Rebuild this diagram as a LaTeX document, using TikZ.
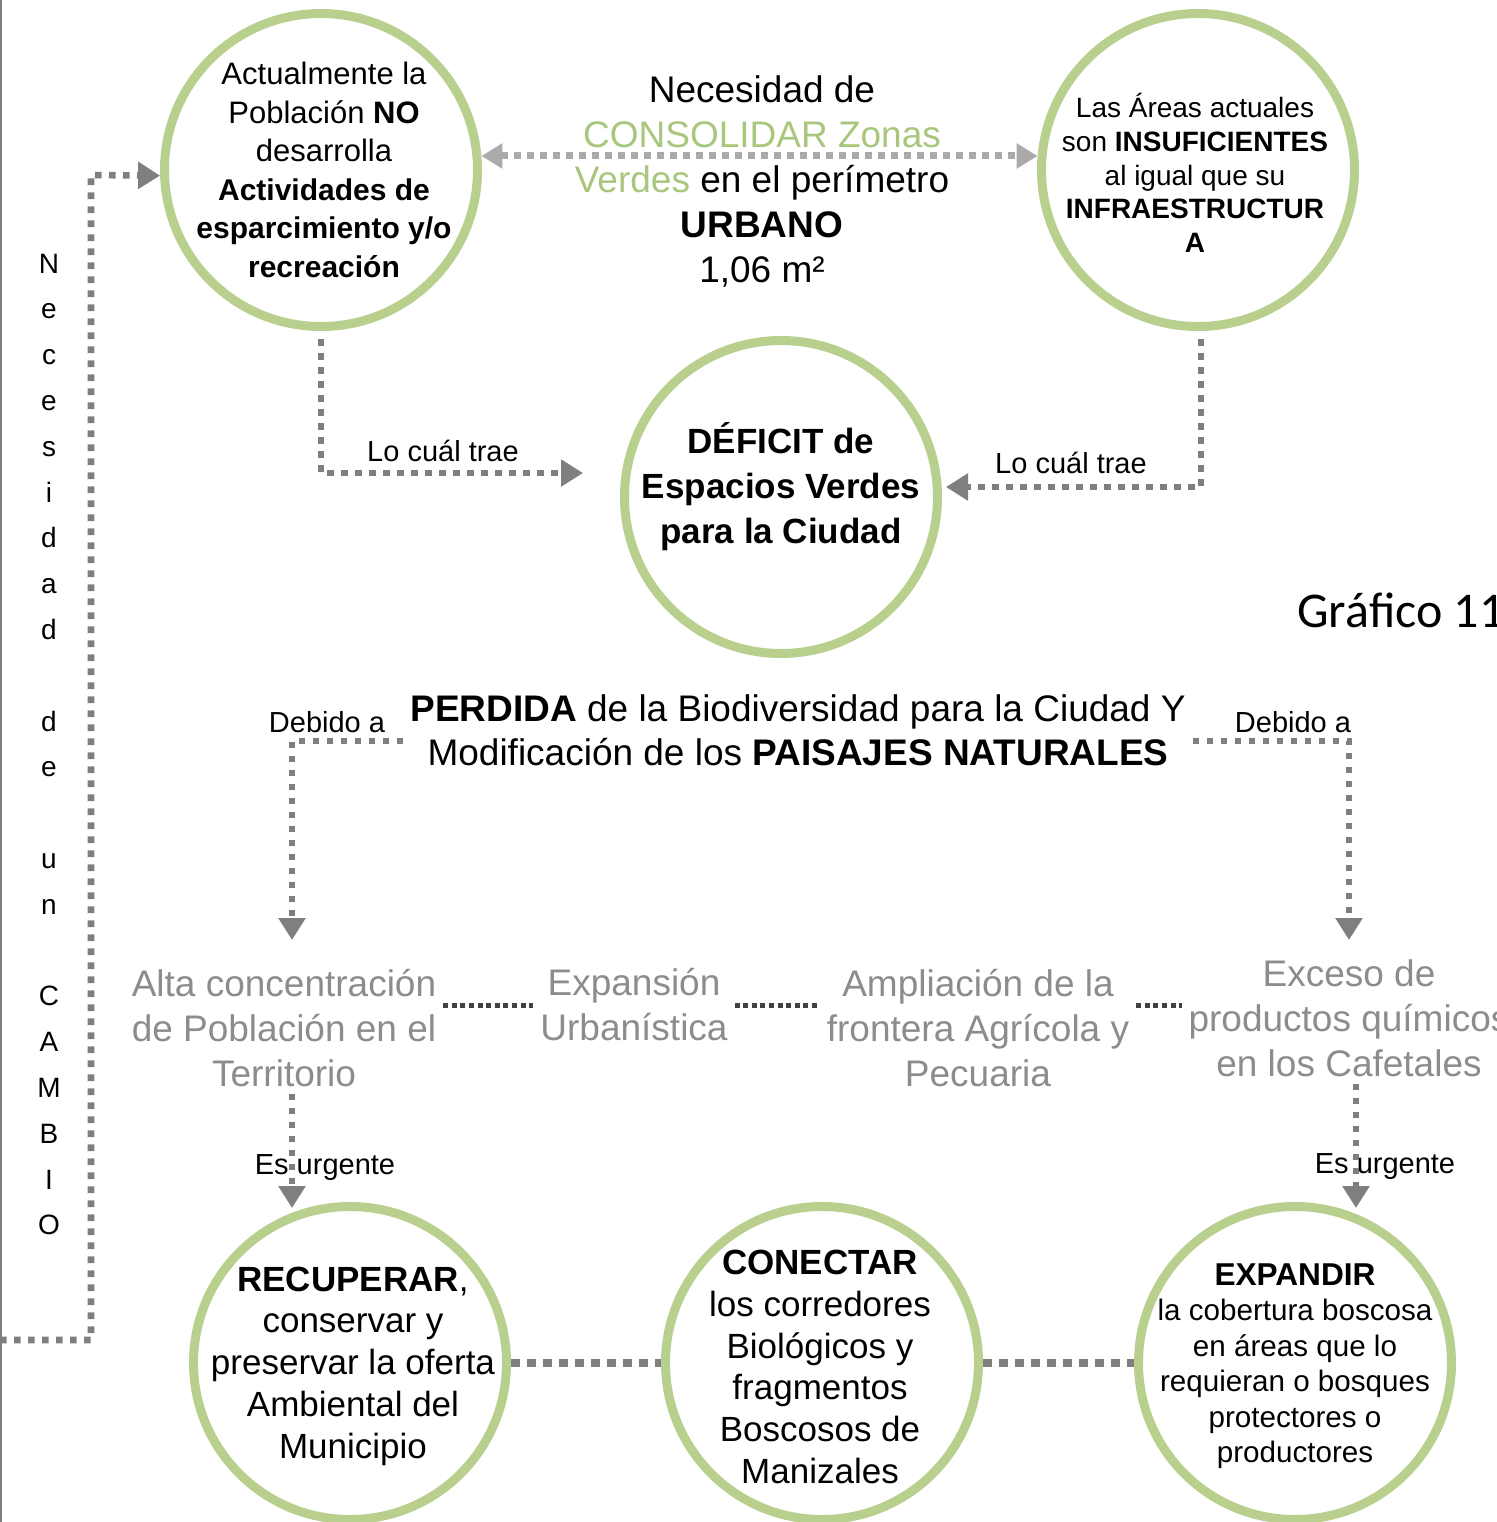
\documentclass[tikz,border=0pt]{standalone}
\usepackage{fontspec}
\setmainfont{Liberation Sans}
\newfontfamily\graffont{Carlito}
\usetikzlibrary{arrows.meta,positioning}
\definecolor{ringgreen}{HTML}{B9CF8D}
\definecolor{textgreen}{HTML}{A8C67C}
\definecolor{arrowgray}{HTML}{7F7F7F}
\definecolor{lightarrow}{HTML}{ABA9A9}
\definecolor{linkgray}{HTML}{404040}
\definecolor{causegray}{HTML}{8C8C8C}

\begin{document}
\begin{tikzpicture}[x=0.5pt,y=-0.5pt,
  ring/.style={draw=ringgreen, line width=4.5pt, circle, minimum size=156.5pt, inner sep=0pt},
  ringtext/.style={align=center, inner sep=1pt},
  cause/.style={align=center, text=causegray, font=\fontsize{18.5}{22.5}\selectfont},
  note/.style={font=\fontsize{14.5}{17}\selectfont, inner sep=1pt},
  flow/.style={draw=arrowgray, line width=3.3pt, dash pattern=on 3.3pt off 3.7pt, -{Triangle[length=11pt,width=13pt]}},
  both/.style={draw=lightarrow, line width=3.5pt, dash pattern=on 3.5pt off 3pt, {Triangle[length=10.5pt,width=12pt]}-{Triangle[length=10.5pt,width=12pt]}},
  chain/.style={draw=linkgray, line width=2.5pt, dash pattern=on 2.5pt off 1.8pt},
  ringlink/.style={draw=arrowgray, line width=4pt, dash pattern=on 4.5pt off 3.5pt},
]
  \useasboundingbox (0,0) rectangle (1497,1522);

  % page edge
  \draw[arrowgray, line width=1pt] (1,0) -- (1,1522);

  % top row
  \node[ring] (actual) at (321,170) {};
  \node[ringtext, font=\fontsize{15.5}{19.25}\selectfont] (actualtxt) at (324,170) {Actualmente la\\Población \textbf{NO}\\desarrolla\\{\fontsize{15}{19.25}\selectfont\textbf{Actividades de}}\\{\fontsize{15}{19.25}\selectfont\textbf{esparcimiento y/o}}\\{\fontsize{15}{19.25}\selectfont\textbf{recreación}}};

  \node[ring] (areas) at (1198,170) {};
  \node[ringtext, font=\fontsize{14}{16.8}\selectfont] (areastxt) at (1195,173) {Las Áreas actuales\\son \textbf{INSUFICIENTES}\\al igual que su\\\textbf{INFRAESTRUCTUR}\\\textbf{A}};

  \node[align=center, font=\fontsize{18.5}{22.5}\selectfont] (necesidad) at (762,181) {Necesidad de\\\textcolor{textgreen}{CONSOLIDAR Zonas}\\\textcolor{textgreen}{Verdes} en el perímetro\\\textbf{URBANO}\\1,06 m²};

  % deficit
  \node[ring] (deficit) at (781,497) {};
  \node[ringtext, font=\bfseries\fontsize{17.5}{22.5}\selectfont] (deficittxt) at (781,487) {DÉFICIT de\\Espacios Verdes\\para la Ciudad};

  \node[anchor=base west, inner sep=0pt, font=\graffont\fontsize{25}{30}\selectfont] (grafico) at (1297,627) {Gráfico 11};

  \node[note] (trae1) at (443,451) {Lo cuál trae};
  \node[note] (trae2) at (1071,463) {Lo cuál trae};

  % perdida
  \node[align=center, font=\fontsize{18.5}{22}\selectfont] (perdida) at (798,730) {\textbf{PERDIDA} de la Biodiversidad para la Ciudad Y\\Modificación de los \textbf{PAISAJES NATURALES}};
  \node[note] (debido1) at (327,722) {Debido a};
  \node[note] (debido2) at (1293,722) {Debido a};

  % causes
  \node[cause] (alta) at (284,1028) {Alta concentración\\de Población en el\\Territorio};
  \node[cause] (expansion) at (634,1005) {Expansión\\Urbanística};
  \node[cause] (ampliacion) at (978,1028) {Ampliación de la\\frontera Agrícola y\\Pecuaria};
  \node[cause] (exceso) at (1349,1018) {Exceso de\\productos químicos\\en los Cafetales};

  \node[note] (urge1) at (325,1168) {Es urgente};
  \node[note] (urge2) at (1385,1167) {Es urgente};

  % bottom row
  \node[ring] (recuperar) at (350,1363) {};
  \node[ringtext, font=\fontsize{17.5}{20.9}\selectfont] (recuperartxt) at (353,1366) {\textbf{RECUPERAR},\\conservar y\\preservar la oferta\\Ambiental del\\Municipio};
  \node[ring] (conectar) at (822,1363) {};
  \node[ringtext, font=\fontsize{17.5}{20.9}\selectfont] (conectartxt) at (820,1367) {\textbf{CONECTAR}\\los corredores\\Biológicos y\\fragmentos\\Boscosos de\\Manizales};
  \node[ring] (expandir) at (1295,1363) {};
  \node[ringtext, font=\fontsize{14.8}{17.75}\selectfont] (expandirtxt) at (1295,1366) {{\fontsize{15.8}{19}\selectfont\textbf{EXPANDIR}}\\la cobertura boscosa\\en áreas que lo\\requieran o bosques\\protectores o\\productores};

  % vertical text
  \foreach \ch [count=\k from 0] in {N,e,c,e,s,i,d,a,d,{},d,e,{},u,n,{},C,A,M,B,I,O}
    \node[anchor=base, font=\fontsize{14}{17}\selectfont] (letra\k) at (49,273+45.8*\k) {\ch};

  % connectors
  \coordinate (deficitin) at (583,473);
  \coordinate (deficitin2) at (946,487);
  \coordinate (loopstart) at (0,1340);
  \coordinate (loopcorner) at (91,175);
  \coordinate (altain) at (292,940);
  \coordinate (excesoin) at (1349,940);

  \draw[both] (actual.5) -- (areas.175);
  \draw[flow] ([yshift=-4pt]actual.south) |- (deficitin);
  \draw[flow] ([xshift=1.5pt,yshift=-4pt]areas.south) |- (deficitin2);
  \draw[flow] (loopstart) -| (loopcorner) -- (actual.182);

  \draw[flow] ([yshift=-5.5pt]perdida.west) -| (altain);
  \draw[flow] ([yshift=-5.5pt]perdida.east) -| (excesoin);

  \draw[chain] (alta.east |- expansion.west) -- (expansion.west);
  \draw[chain] (expansion.east) -- (expansion.east -| ampliacion.west);
  \draw[chain] (ampliacion.east |- expansion.east) -- (exceso.west |- expansion.east);

  \draw[flow] ([xshift=4pt]alta.south) -- ([xshift=4pt,yshift=-3pt]alta.south |- recuperar.north);
  \draw[flow] ([xshift=3.5pt]exceso.south) -- ([xshift=3.5pt,yshift=-3pt]exceso.south |- expandir.north);

  \draw[ringlink] (recuperar) -- (conectar);
  \draw[ringlink] (conectar) -- (expandir);

\end{tikzpicture}
\end{document}
